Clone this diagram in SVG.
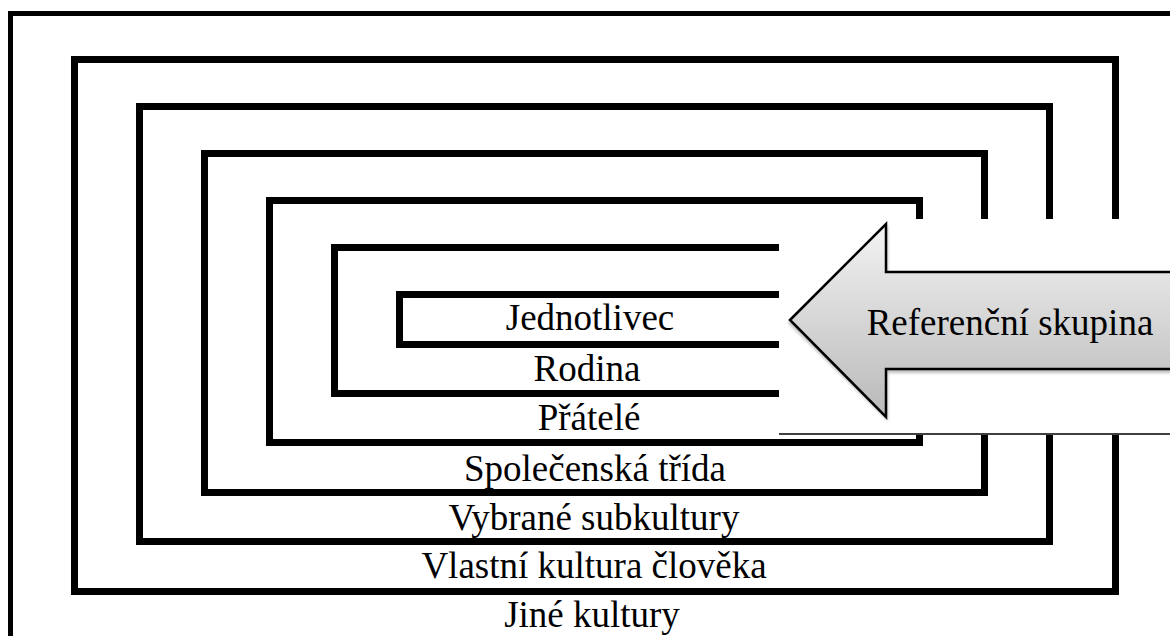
<svg xmlns="http://www.w3.org/2000/svg" width="1170" height="636" viewBox="0 0 1170 636">
  <style>
    .frame { fill: none; stroke: #000; stroke-width: 7; stroke-linejoin: miter; stroke-linecap: butt; }
    .lbl { font-family: "Liberation Serif", "Times New Roman", serif; font-size: 37px; fill: #000; text-anchor: middle; }
  </style>
  <defs>
    <linearGradient id="arrowFill" gradientUnits="userSpaceOnUse" x1="0" y1="224" x2="0" y2="417">
      <stop offset="0" stop-color="#f3f3f3"/>
      <stop offset="1" stop-color="#b9b9b9"/>
    </linearGradient>
    <filter id="shadowBlur" x="-10%" y="-10%" width="120%" height="130%">
      <feGaussianBlur stdDeviation="1.5"/>
    </filter>
  </defs>
  <rect width="1170" height="636" fill="#fff"/>

  <g id="jine-kultury">
    <path d="M10.5,636 V13.5 H1170" fill="none" stroke="#000" stroke-width="5"/>
    <text class="lbl" x="592" y="627">Jiné kultury</text>
  </g>
  <g id="vlastni-kultura">
    <path class="frame" d="M1115.5,219 V59.5 H74.5 V591.5 H1115.5 V435"/>
    <text class="lbl" x="594" y="578">Vlastní kultura člověka</text>
  </g>
  <g id="vybrane-subkultury">
    <path class="frame" d="M1049.5,219 V106.5 H139.5 V541.5 H1049.5 V435"/>
    <text class="lbl" x="594" y="530">Vybrané subkultury</text>
  </g>
  <g id="spolecenska-trida">
    <path class="frame" d="M984.5,219 V153.5 H204.5 V492.5 H984.5 V435"/>
    <text class="lbl" x="595" y="481">Společenská třída</text>
  </g>
  <g id="pratele">
    <path class="frame" d="M919.5,219 V200.5 H269.5 V442.5 H919.5 V435"/>
    <text class="lbl" x="589" y="430">Přátelé</text>
  </g>
  <g id="rodina">
    <path class="frame" d="M779,247.5 H334.5 V393.5 H779"/>
    <text class="lbl" x="587" y="381">Rodina</text>
  </g>
  <g id="jednotlivec">
    <path class="frame" d="M779,294.5 H399.5 V344.5 H779"/>
    <text class="lbl" x="590" y="330">Jednotlivec</text>
  </g>

  <g id="connectors">
    <line x1="779" y1="434" x2="1170" y2="434" stroke="#000" stroke-width="1.3"/>
  </g>

  <g id="referencni-skupina">
    <path d="M788,323 L888,225 L888,273 L1175,273 L1175,373 L888,373 L888,421 Z" fill="#8a8a8a" opacity="0.55" filter="url(#shadowBlur)"/>
    <path d="M790,320 L886,224 L886,272 L1175,272 L1175,369 L886,369 L886,417 Z" fill="url(#arrowFill)" stroke="#000" stroke-width="2.5" stroke-linejoin="miter"/>
    <text class="lbl" x="1010" y="335">Referenční skupina</text>
  </g>
</svg>
